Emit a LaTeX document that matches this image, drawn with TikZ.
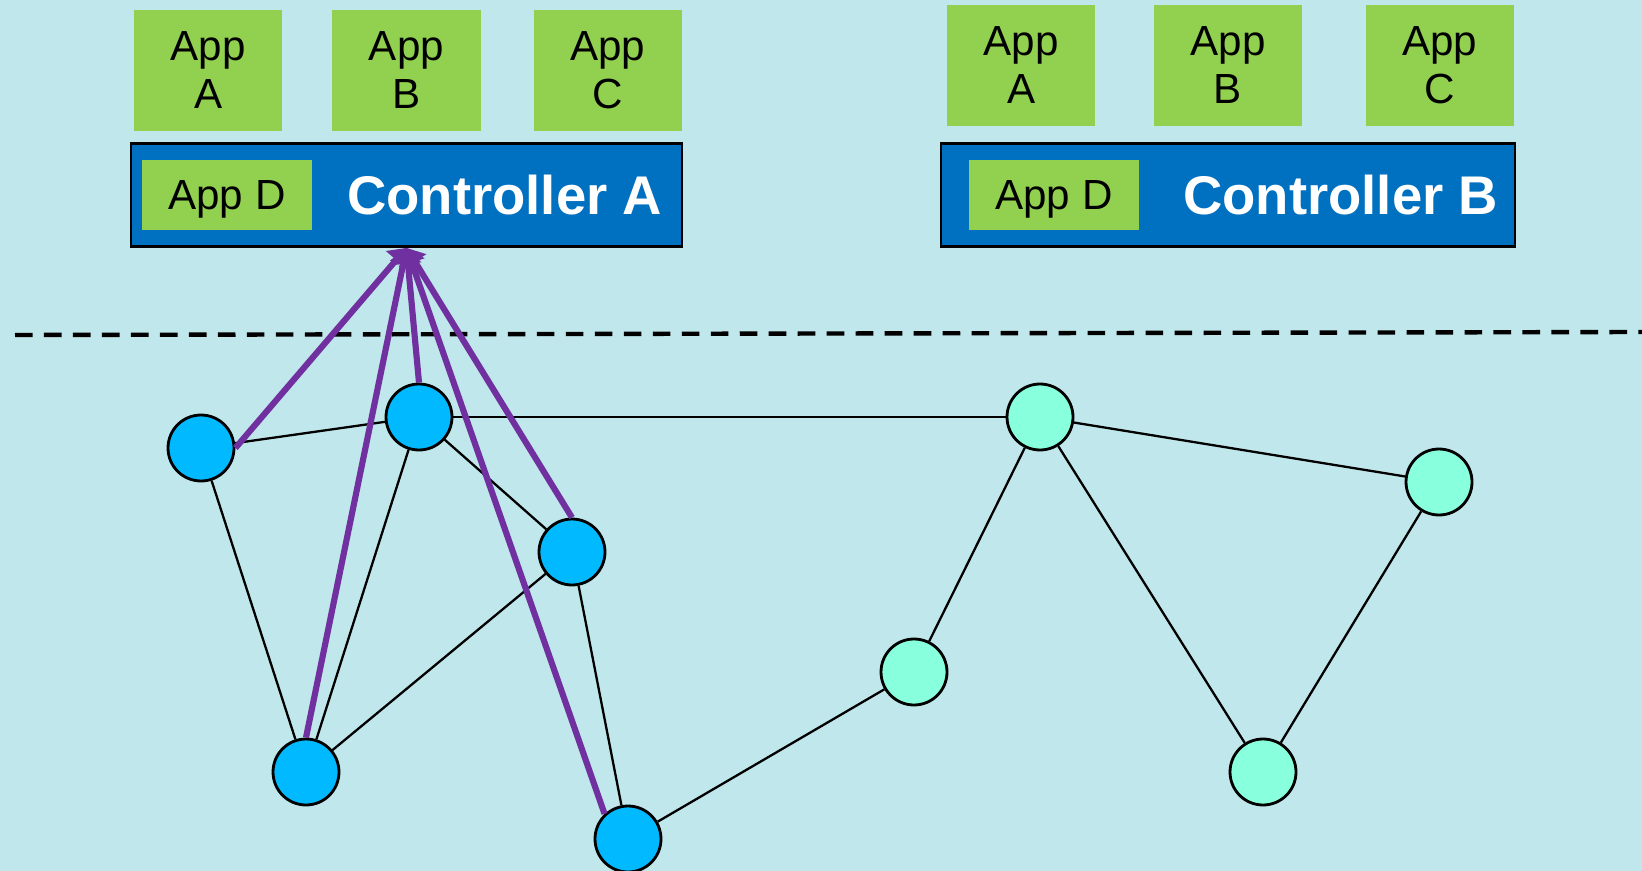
\documentclass[tikz,border=0pt]{standalone}
\usepackage{fontspec}
\setmainfont{Liberation Sans}
\usetikzlibrary{positioning, arrows.meta}
\definecolor{bgcyan}{HTML}{C0E7EB}
\definecolor{appgreen}{HTML}{92D050}
\definecolor{ctrlblue}{HTML}{0070C0}
\definecolor{swblue}{HTML}{00B9FF}
\definecolor{swaqua}{HTML}{88FFDD}
\definecolor{linkpurple}{HTML}{7030A0}

\begin{document}
\begin{tikzpicture}[x=0.02cm, y=-0.02cm,
app/.style={
  fill=appgreen,
  minimum width=2.97cm, minimum height=2.42cm,
  align=center, inner sep=0pt, text depth=-0.12cm,
  font=\fontsize{24}{27.5}\selectfont
},
appd/.style={app, minimum width=3.4cm, minimum height=1.4cm, text depth=0pt},
ctrl/.style={
  draw, line width=1.6pt, fill=ctrlblue,
  minimum height=2.06cm
},
ctrltext/.style={text=white, inner sep=0pt, font=\fontsize{31}{31}\selectfont\bfseries},
sw/.style={circle, draw, line width=1.6pt, fill=swblue, minimum size=1.32cm, inner sep=0pt},
swb/.style={sw, fill=swaqua},
link/.style={line width=1.3pt},
report/.style={draw=linkpurple, line width=3.5pt, -{Triangle[length=9pt, width=15pt]}}
]

\fill[bgcyan] (0,0) rectangle (1642,871);
\useasboundingbox (0,0) rectangle (1642,871);

% controllers with their apps
\node (ctrlA) [ctrl, minimum width=11.02cm] at (406.5,195) {};
\node (appDa) [appd, right=0.24cm of ctrlA.west] {App D};
\node (nameA) [ctrltext, left=0.42cm of ctrlA.east] {Controller A};
\node (appAa) [app, above right=0.22cm and 0.08cm of ctrlA.north west] {App\\A};
\node (appBa) [app, above=0.22cm of ctrlA.north] {App\\B};
\node (appCa) [app, above left=0.22cm and 0.02cm of ctrlA.north east] {App\\C};

\node (ctrlB) [ctrl, minimum width=11.48cm] at (1228,195) {};
\node (appDb) [appd, right=0.58cm of ctrlB.west] {App D};
\node (nameB) [ctrltext, left=0.36cm of ctrlB.east] {Controller B};
\node (appAb) [app, above right=0.32cm and 0.14cm of ctrlB.north west] {App\\A};
\node (appBb) [app, above=0.32cm of ctrlB.north] {App\\B};
\node (appCb) [app, above left=0.32cm and 0.04cm of ctrlB.north east] {App\\C};

% control / data plane border
\draw[line width=2.5pt, dash pattern=on 10pt off 6.5pt] (15,335) -- (1642,332);

% switches
\node (sw1) [sw] at (201,448) {};
\node (sw2) [sw] at (419,417) {};
\node (sw3) [sw] at (572,552) {};
\node (sw4) [sw] at (306,772) {};
\node (sw5) [sw] at (628,839) {};

\node (swb1) [swb] at (1040,417) {};
\node (swb2) [swb] at (1439,482) {};
\node (swb3) [swb] at (914,672) {};
\node (swb4) [swb] at (1263,772) {};

% links
\draw[link] (sw1) -- (sw2);
\draw[link] (sw1) -- (sw4);
\draw[link] (sw2) -- (sw4);
\draw[link] (sw2) -- (sw3);
\draw[link] (sw3) -- (sw4);
\draw[link] (sw3) -- (sw5);
\draw[link] (sw2) -- (swb1);
\draw[link] (sw5) -- (swb3);
\draw[link] (swb3) -- (swb1);
\draw[link] (swb1) -- (swb2);
\draw[link] (swb1) -- (swb4);
\draw[link] (swb4) -- (swb2);

% switches talking to controller A
\coordinate (tip) at (ctrlA.south);
\draw[report] (sw1.east) -- (tip);
\draw[report] (sw4.north) -- (tip);
\draw[report] (sw2.north) -- (tip);
\draw[report] (sw5.133) -- (tip);
\draw[report] (sw3.north) -- (tip);
\end{tikzpicture}
\end{document}
